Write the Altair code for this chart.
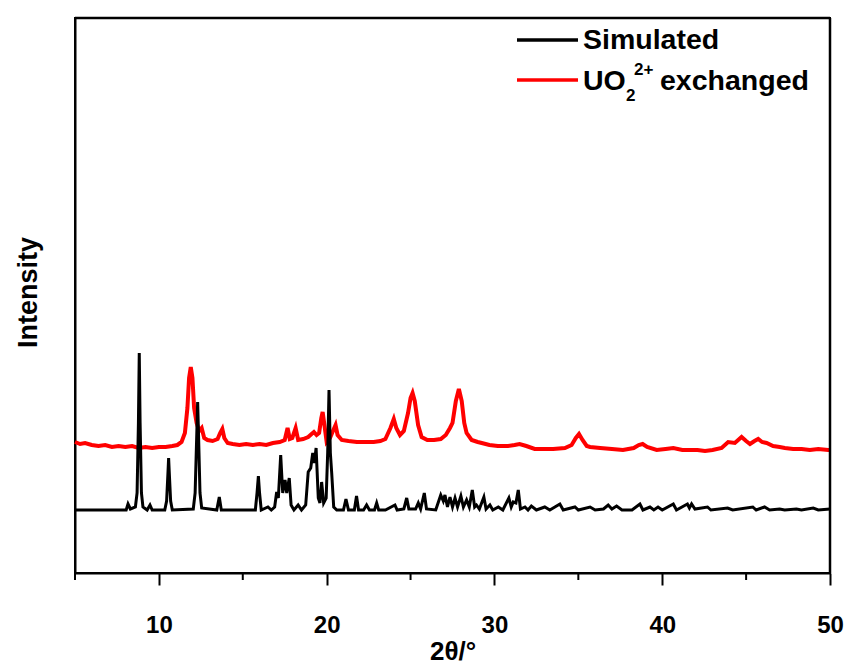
import altair as alt
import pandas as pd

# Simulated pattern (2theta, intensity a.u.)
sim_theta = [5.0, 7.9, 8.05, 8.16, 8.3, 8.6, 8.7, 8.78, 8.83, 8.88, 8.96, 9.05, 9.3, 9.47, 9.6,
             10.35, 10.46, 10.54, 10.58, 10.62, 10.7, 10.8, 12.05, 12.16, 12.26, 12.31, 12.36,
             12.45, 12.55,
             13.45, 13.6, 13.72, 15.75, 15.85, 15.93, 16.0, 16.1, 16.5, 16.7,
             16.9, 17.02, 17.12, 17.26, 17.38, 17.52, 17.62, 17.77, 17.88, 18.05, 18.3, 18.5,
             18.75, 18.9, 19.05, 19.17, 19.27, 19.37, 19.5, 19.6, 19.7, 19.82, 19.97, 20.06,
             20.14, 20.22, 20.3, 20.42, 20.6, 21.0, 21.15, 21.3, 21.65, 21.78, 21.9, 22.2,
             22.38, 22.55, 22.85, 22.98, 23.1, 23.5, 24.07, 24.2, 24.6, 24.77, 24.9, 25.3,
             25.46, 25.6, 25.82, 25.95, 26.5, 26.8, 26.95, 27.05, 27.2, 27.35, 27.5, 27.65,
             27.8, 28.0, 28.15, 28.34, 28.5, 28.68, 28.82, 28.93, 29.1, 29.37, 29.5, 29.73,
             29.9, 30.23, 30.5, 30.86, 31.0, 31.12, 31.28, 31.42, 31.55, 31.82, 32.0, 32.2,
             32.5, 33.0, 33.3, 33.9, 34.1, 34.8, 35.0, 35.7, 36.0, 36.5, 36.78, 37.0, 37.28,
             37.6, 38.2, 38.67, 38.85, 39.27, 39.5, 39.75, 40.0, 40.66, 40.85, 41.5, 41.62,
             41.75, 41.95, 42.7, 42.9, 43.9, 44.2, 45.4, 45.6, 46.1, 46.4, 47.0, 47.3, 48.0,
             48.3, 49.0, 49.3, 50.0]
sim_int = [63, 63, 63, 69, 64, 66, 80, 150, 220, 150, 80, 66, 63, 68, 63,
           63, 72, 100, 115, 100, 72, 63, 64, 80, 140, 171, 140,
           80, 65,
           63, 76, 63, 63, 80, 97, 80, 63, 66, 63,
           66, 81, 75, 118, 80, 93, 80, 95, 68, 63, 68, 63,
           68, 101, 105, 120, 110, 125, 75, 70, 91, 70, 75, 120,
           183, 120, 100, 66, 63, 63, 74, 63, 63, 77, 63, 63,
           68, 63, 63, 70, 63, 63, 68, 63, 64, 75, 64, 64,
           70, 64, 80, 64, 63, 78, 72, 78, 66, 76, 66, 75,
           66, 77, 66, 73, 66, 83, 66, 68, 64, 76, 64, 68,
           63, 66, 63, 75, 66, 71, 70, 83, 64, 66, 63, 67,
           63, 66, 63, 69, 63, 66, 63, 66, 63, 64, 68, 64, 67,
           63, 63, 69, 63, 66, 63, 66, 63, 69, 63, 69, 65,
           69, 64, 66, 63, 65, 63, 66, 63, 66, 63, 64, 63, 64,
           63, 65, 63, 64]

# UO2 2+ exchanged pattern (2theta, intensity a.u.)
exc_theta = [5.0, 5.3, 5.6, 6.0, 6.4, 6.8, 7.2, 7.6, 8.0, 8.4, 8.8, 9.2, 9.6, 10.0, 10.4,
             10.8, 11.1, 11.35, 11.55, 11.7, 11.8, 11.9, 12.0, 12.1, 12.25, 12.4, 12.55,
             12.7, 12.9, 13.2, 13.5, 13.65, 13.78, 13.9, 14.1, 14.4, 14.8, 15.2, 15.6, 16.0,
             16.4, 16.8, 17.2, 17.5, 17.67, 17.8, 17.95, 18.15, 18.3, 18.6, 18.9, 19.1, 19.24,
             19.4, 19.55, 19.68, 19.76, 19.85, 20.0, 20.2, 20.4, 20.53, 20.65, 20.9, 21.3,
             21.8, 22.3, 22.8, 23.2, 23.5, 23.8, 24.0, 24.15, 24.37, 24.6, 24.85, 25.0, 25.12,
             25.25, 25.45, 25.66, 26.0, 26.4, 26.8, 27.1, 27.35, 27.5, 27.7, 27.88, 28.05,
             28.2, 28.34, 28.64, 29.0, 29.24, 29.7, 30.2, 30.8, 31.2, 31.5, 31.9, 32.4, 32.8,
             33.5, 34.2, 34.6, 34.85, 35.04, 35.25, 35.5, 35.7, 36.3, 37.0, 37.66, 38.3,
             38.6, 38.83, 39.1, 39.67, 40.2, 40.66, 41.2, 41.65, 42.1, 42.55, 43.0, 43.54,
             43.93, 44.33, 44.73, 45.0, 45.23, 45.5, 45.72, 45.95, 46.22, 46.61, 47.0, 47.31,
             47.8, 48.31, 48.8, 49.3, 49.9, 50.0]
exc_int = [131, 129, 130, 128, 127, 128, 126, 127, 126, 127, 125, 126, 125, 126, 126,
           127, 128, 131, 140, 165, 195, 206, 195, 165, 150, 142, 145,
           135, 133, 132, 134, 140, 144, 135, 130, 129, 128, 129, 128, 129,
           128, 130, 131, 133, 145, 134, 135, 145, 133, 134, 136, 139, 141,
           138, 140, 155, 161, 150, 131, 135, 143, 148, 138, 133, 132,
           131, 131, 131, 132, 134, 145, 154, 145, 138, 142, 160, 175, 180,
           172, 148, 136, 133, 133, 134, 138, 145, 150, 172, 184, 172,
           150, 140, 133, 131, 130, 128, 127, 127, 128, 129, 127, 124, 124,
           124, 125, 128, 135, 139, 133, 127, 126, 125, 124, 123, 125,
           128, 129, 126, 123, 124, 125, 123, 123, 123, 122, 123, 125,
           131, 130, 136, 132, 129, 132, 134, 131, 130, 127, 126, 125,
           124, 124, 123, 124, 123, 123]

x_ticks = [10, 20, 30, 40, 50]
x_minor = [5, 15, 25, 35, 45]
x_range = [5, 50]
y_range = [0, 555]

FONT = "Liberation Sans"
W, H = 755, 555

df_sim = pd.DataFrame({"theta": sim_theta, "intensity": sim_int})
df_exc = pd.DataFrame({"theta": exc_theta, "intensity": exc_int})
df_minor = pd.DataFrame({"theta": x_minor})
df_frame = pd.DataFrame({"x0": [x_range[0]], "x1": [x_range[1]],
                         "y0": [y_range[0]], "y1": [y_range[1]]})

xscale = alt.Scale(domain=x_range, nice=False, zero=False)
yscale = alt.Scale(domain=y_range, nice=False, zero=True)

xaxis = alt.Axis(values=x_ticks, title="2θ/°", grid=False, tickSize=12, tickWidth=2,
                 tickColor="black", domainColor="black", domainWidth=2,
                 labelFont=FONT, labelFontSize=24, labelFontWeight="bold", labelColor="black",
                 labelPadding=28, labelFlush=False,
                 titleFont=FONT, titleFontSize=26, titleFontWeight="bold", titleColor="black",
                 titleY=78, titleBaseline="middle")
yaxis = alt.Axis(title="Intensity", grid=False, ticks=False, labels=False,
                 domainColor="black", domainWidth=2,
                 titleFont=FONT, titleFontSize=27, titleFontWeight="bold", titleColor="black",
                 titleX=-47, titleY=274, titleAngle=-90, titleBaseline="middle", titleAlign="center")

exc = alt.Chart(df_exc).mark_line(color="#ff0000", strokeWidth=4).encode(
    x=alt.X("theta:Q", scale=xscale, axis=xaxis),
    y=alt.Y("intensity:Q", scale=yscale, axis=yaxis),
)
sim = alt.Chart(df_sim).mark_line(color="black", strokeWidth=3).encode(
    x=alt.X("theta:Q", scale=xscale),
    y=alt.Y("intensity:Q", scale=yscale),
)
minor = alt.Chart(df_minor).mark_rule(color="black", strokeWidth=2, clip=False).encode(
    x=alt.X("theta:Q", scale=xscale),
    y=alt.value(H), y2=alt.value(H + 7),
)
# top and right edges of the plot frame, positioned through the scales
frame_top = alt.Chart(df_frame).mark_rule(color="black", strokeWidth=2.5, clip=False).encode(
    x=alt.X("x0:Q", scale=xscale), x2="x1:Q",
    y=alt.Y("y1:Q", scale=yscale),
)
frame_right = alt.Chart(df_frame).mark_rule(color="black", strokeWidth=2.5, clip=False).encode(
    x=alt.X("x1:Q", scale=xscale),
    y=alt.Y("y0:Q", scale=yscale), y2="y1:Q",
)

one = alt.Data(values=[{"a": 1}])
leg_black = alt.Chart(one).mark_rule(color="black", strokeWidth=3.5).encode(
    x=alt.value(442), x2=alt.value(503), y=alt.value(22))
leg_red = alt.Chart(one).mark_rule(color="#ff0000", strokeWidth=3.5).encode(
    x=alt.value(442), x2=alt.value(503), y=alt.value(62))

def txt(s, x, y, size=28.5):
    return alt.Chart(one).mark_text(font=FONT, fontSize=size, fontWeight="bold",
                                    color="black", align="left", baseline="alphabetic").encode(
        x=alt.value(x), y=alt.value(y), text=alt.value(s))

legend = [
    leg_black, leg_red,
    txt("Simulated", 508, 31),
    txt("UO", 508, 72),
    txt("2", 551, 83, 17),
    txt("2+", 559, 57, 17),
    txt("exchanged", 585, 72),
]

chart = alt.layer(exc, sim, minor, frame_top, frame_right, *legend).properties(
    width=W, height=H,
    autosize=alt.AutoSizeParams(type="none"),
    padding={"left": 75, "top": 18, "right": 20, "bottom": 95},
).configure(background="white").configure_view(stroke="black", strokeWidth=2)

chart.save("out.html", embed_options={"renderer": "svg", "actions": False})
